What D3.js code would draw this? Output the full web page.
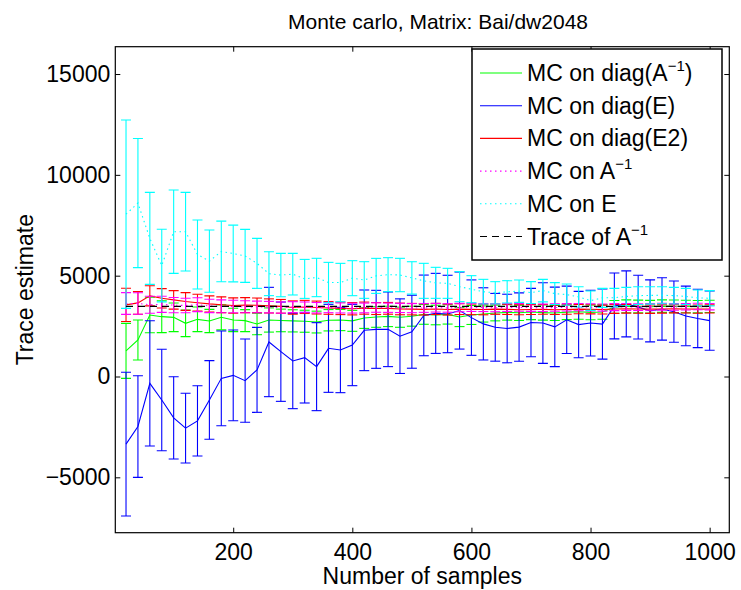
<!DOCTYPE html>
<html><head><meta charset="utf-8">
<script src="https://cdn.jsdelivr.net/npm/d3@7"></script>
<style>
body{margin:0;background:#fff}
svg{display:block}
text{font-family:"Liberation Sans",Arial,Helvetica,sans-serif;fill:#000}
</style>
</head><body>
<svg id="chart" width="741" height="590"></svg>
<script>
// ---------------- data ----------------
const samples = [20,40,60,80,100,120,140,160,180,200,220,240,260,280,300,320,340,360,380,400,420,440,460,480,500,520,540,560,580,600,620,640,660,680,700,720,740,760,780,800,820,840,860,880,900,920,940,960,980,1000];

const diagAinvMean = [1273,1810,3050,2967,2934,2637,2835,2752,2934,2802,2769,2604,2802,2780,2760,2740,2700,2790,2800,2760,2900,2950,2980,2940,2990,3080,3050,3080,2950,3050,3100,3150,3180,3160,3200,3170,3150,3190,3210,3180,3200,3450,3480,3470,3460,3490,3480,3470,3460,3480];
const diagAinvErr  = [1364,992,880,793,711,662,612,578,620,579,546,530,600,560,550,545,540,530,525,520,515,510,505,500,495,490,485,480,475,470,400,390,385,380,378,375,372,370,368,365,362,320,318,316,314,312,310,308,306,304];

const diagEMean = [-3355,-2480,-340,-1165,-2050,-2560,-2200,-1165,-92,57,-205,330,1711,1230,769,934,488,1397,1314,1562,2290,2339,2340,2000,2220,3030,3130,3100,3270,2920,2610,2440,2380,2450,2675,2650,2460,2810,2575,2650,2600,3500,3600,3440,3255,3350,3215,3004,2880,2770];
const diagEErr  = [3563,2520,3107,2514,2040,1727,1744,1950,2348,2249,2065,2107,2711,2462,2364,2248,2182,2182,2116,2017,2000,1934,1850,1850,1810,2000,1985,1920,1910,1870,1790,1680,1700,1695,1695,2000,1970,1670,1645,1630,1736,1636,1636,1580,1537,1545,1520,1480,1447,1470];

const diagE2Mean = [3550,3650,4000,3880,3800,3720,3660,3600,3560,3520,3540,3530,3500,3480,3420,3450,3420,3400,3380,3360,3390,3370,3380,3350,3340,3330,3350,3320,3340,3330,3320,3340,3330,3310,3320,3330,3310,3320,3340,3330,3320,3350,3360,3350,3340,3350,3360,3350,3340,3350];
const diagE2Err  = [826,560,500,480,460,440,420,400,390,380,370,360,350,340,330,325,320,315,310,305,300,296,292,288,284,280,276,272,268,264,260,256,252,248,244,240,236,232,228,225,222,219,216,213,210,208,206,204,202,200];

const AinvMean = [3620,3620,3560,3580,3540,3520,3560,3500,3480,3470,3460,3450,3440,3420,3440,3430,3410,3420,3400,3390,3400,3420,3410,3400,3390,3400,3410,3400,3420,3430,3420,3410,3420,3430,3420,3410,3420,3430,3440,3430,3420,3440,3450,3440,3450,3460,3450,3460,3470,3460];
const AinvErr  = [540,530,420,400,380,360,345,330,320,310,300,290,285,280,270,265,260,255,250,245,240,235,230,228,225,220,215,212,210,205,200,198,195,192,190,187,185,182,180,178,176,174,172,170,168,166,164,162,160,158];

const EMean = [8050,8600,6850,5500,7180,7180,6050,5720,6200,6100,5980,5610,5100,5030,5075,4840,4910,4660,4660,4876,4785,4990,5050,5033,4890,4744,4645,4620,4455,4330,4206,4150,4200,4230,4160,4260,4110,4060,3950,3760,3900,3910,3970,4010,4020,4030,4010,3970,3900,3880];
const EErr  = [4670,3200,2280,1800,2066,1950,1711,1545,1504,1405,1314,1240,1090,1075,1032,967,951,1000,951,868,909,868,843,827,802,868,769,744,745,670,612,553,552,556,543,558,543,527,503,480,472,462,452,443,433,423,412,402,390,377];

const traceAinv = 3480;

const xTickValues = [200,400,600,800,1000];
const yTickValues = [-5000,0,5000,10000,15000];

const titleText = "Monte carlo, Matrix: Bai/dw2048";
const xLabelText = "Number of samples";
const yLabelText = "Trace estimate";

// legend labels: [main text, superscript, trailing text]
const legendLabels = [
  ["MC on diag(A", "\u22121", ")"],
  ["MC on diag(E)", "", ""],
  ["MC on diag(E2)", "", ""],
  ["MC on A", "\u22121", ""],
  ["MC on E", "", ""],
  ["Trace of A", "\u22121", ""]
];

// ---------------- layout / styles ----------------
const plot = {l:115.3, r:729.3, t:46.7, b:532.7};
const x = d3.scaleLinear().domain([2, 1033]).range([plot.l, plot.r]);
const y = d3.scaleLinear().domain([-7746, 16355]).range([plot.b, plot.t]);

const series = [
  {mean: diagAinvMean, err: diagAinvErr, color: "#00ff00", dash: null},
  {mean: diagEMean,    err: diagEErr,    color: "#0000ff", dash: null},
  {mean: diagE2Mean,   err: diagE2Err,   color: "#ff0000", dash: null},
  {mean: AinvMean,     err: AinvErr,     color: "#ff00ff", dash: "1.5,3.5"},
  {mean: EMean,        err: EErr,        color: "#00ffff", dash: "1.5,3.5"}
];
const legendStyles = [
  {color:"#00ff00", dash:null},
  {color:"#0000ff", dash:null},
  {color:"#ff0000", dash:null},
  {color:"#ff00ff", dash:"1.5,3.5"},
  {color:"#00ffff", dash:"1.5,3.5"},
  {color:"#000000", dash:"7,5"}
];

const svg = d3.select("#chart");
const FS = 23;

svg.append("defs").append("clipPath").attr("id","clip")
  .append("rect").attr("x",plot.l).attr("y",plot.t)
  .attr("width",plot.r-plot.l).attr("height",plot.b-plot.t);

const g = svg.append("g").attr("clip-path","url(#clip)");
const capHalf = 5;

series.forEach(s => {
  const sg = g.append("g");
  const pts = samples.map((v,i)=>({x:v, m:s.mean[i], e:s.err[i]}));
  sg.selectAll("line.v").data(pts).enter().append("line")
    .attr("x1",d=>x(d.x)).attr("x2",d=>x(d.x))
    .attr("y1",d=>y(d.m+d.e)).attr("y2",d=>y(d.m-d.e))
    .attr("stroke",s.color).attr("stroke-width",1.1);
  ["top","bot"].forEach(k=>{
    sg.selectAll("line.c"+k).data(pts).enter().append("line")
      .attr("x1",d=>x(d.x)-capHalf).attr("x2",d=>x(d.x)+capHalf)
      .attr("y1",d=>y(k==="top"?d.m+d.e:d.m-d.e))
      .attr("y2",d=>y(k==="top"?d.m+d.e:d.m-d.e))
      .attr("stroke",s.color).attr("stroke-width",1.1);
  });
  sg.append("path").datum(pts)
    .attr("d", d3.line().x(d=>x(d.x)).y(d=>y(d.m)))
    .attr("fill","none").attr("stroke",s.color).attr("stroke-width",1.1)
    .attr("stroke-dasharray", s.dash);
});

// trace line
g.append("path").datum([samples[0], samples[samples.length-1]])
  .attr("d", d3.line().x(d=>x(d)).y(()=>y(traceAinv)))
  .attr("fill","none").attr("stroke","#000").attr("stroke-width",1.1)
  .attr("stroke-dasharray","7,5");

// axes
const fmt = d => d < 0 ? "\u2212" + Math.abs(d) : String(d);
const axB = d3.axisBottom(x).tickValues(xTickValues).tickSizeInner(-5).tickSizeOuter(0).tickPadding(11).tickFormat(fmt);
const axT = d3.axisTop(x).tickValues(xTickValues).tickSizeInner(-5).tickSizeOuter(0).tickFormat("");
const axL = d3.axisLeft(y).tickValues(yTickValues).tickSizeInner(-5).tickSizeOuter(0).tickPadding(5).tickFormat(fmt);
const axR = d3.axisRight(y).tickValues(yTickValues).tickSizeInner(-5).tickSizeOuter(0).tickFormat("");

function style(sel){
  sel.select(".domain").remove();
  sel.selectAll(".tick line").attr("stroke","#000").attr("stroke-width",1);
  sel.selectAll(".tick text").attr("font-size",FS).attr("fill","#000")
    .style("font-family",'"Liberation Sans",Arial,Helvetica,sans-serif');
}
svg.append("g").attr("transform",`translate(0,${plot.b})`).call(axB).call(style);
svg.append("g").attr("transform",`translate(0,${plot.t})`).call(axT).call(style);
svg.append("g").attr("transform",`translate(${plot.l},0)`).call(axL).call(style);
svg.append("g").attr("transform",`translate(${plot.r},0)`).call(axR).call(style);

svg.append("rect").attr("x",plot.l).attr("y",plot.t)
  .attr("width",plot.r-plot.l).attr("height",plot.b-plot.t)
  .attr("fill","none").attr("stroke","#000").attr("stroke-width",1.2);

// labels
svg.append("text").attr("x",438).attr("y",29)
  .attr("text-anchor","middle").attr("font-size",21).text(titleText);
svg.append("text").attr("x",(plot.l+plot.r)/2).attr("y",584)
  .attr("text-anchor","middle").attr("font-size",FS).text(xLabelText);
svg.append("text").attr("transform",`translate(33,${(plot.t+plot.b)/2}) rotate(-90)`)
  .attr("text-anchor","middle").attr("font-size",FS).text(yLabelText);

// legend
const lg = {x:472, y:49, w:250, h:211};
const leg = svg.append("g");
leg.append("rect").attr("x",lg.x).attr("y",lg.y).attr("width",lg.w).attr("height",lg.h)
  .attr("fill","#fff").attr("stroke","#000").attr("stroke-width",1.5);
legendLabels.forEach((lab,i)=>{
  const cy = 73 + i*32.7;
  const st = legendStyles[i];
  leg.append("line").attr("x1",480).attr("x2",522).attr("y1",cy).attr("y2",cy)
    .attr("stroke",st.color).attr("stroke-width",1.1).attr("stroke-dasharray",st.dash);
  const t = leg.append("text").attr("x",527).attr("y",cy+8).attr("font-size",FS);
  t.append("tspan").text(lab[0]);
  if(lab[1]){
    t.append("tspan").attr("font-size",15).attr("dy",-10).text(lab[1]);
    if(lab[2]) t.append("tspan").attr("dy",10).text(lab[2]);
  }
});
</script>
</body></html>
